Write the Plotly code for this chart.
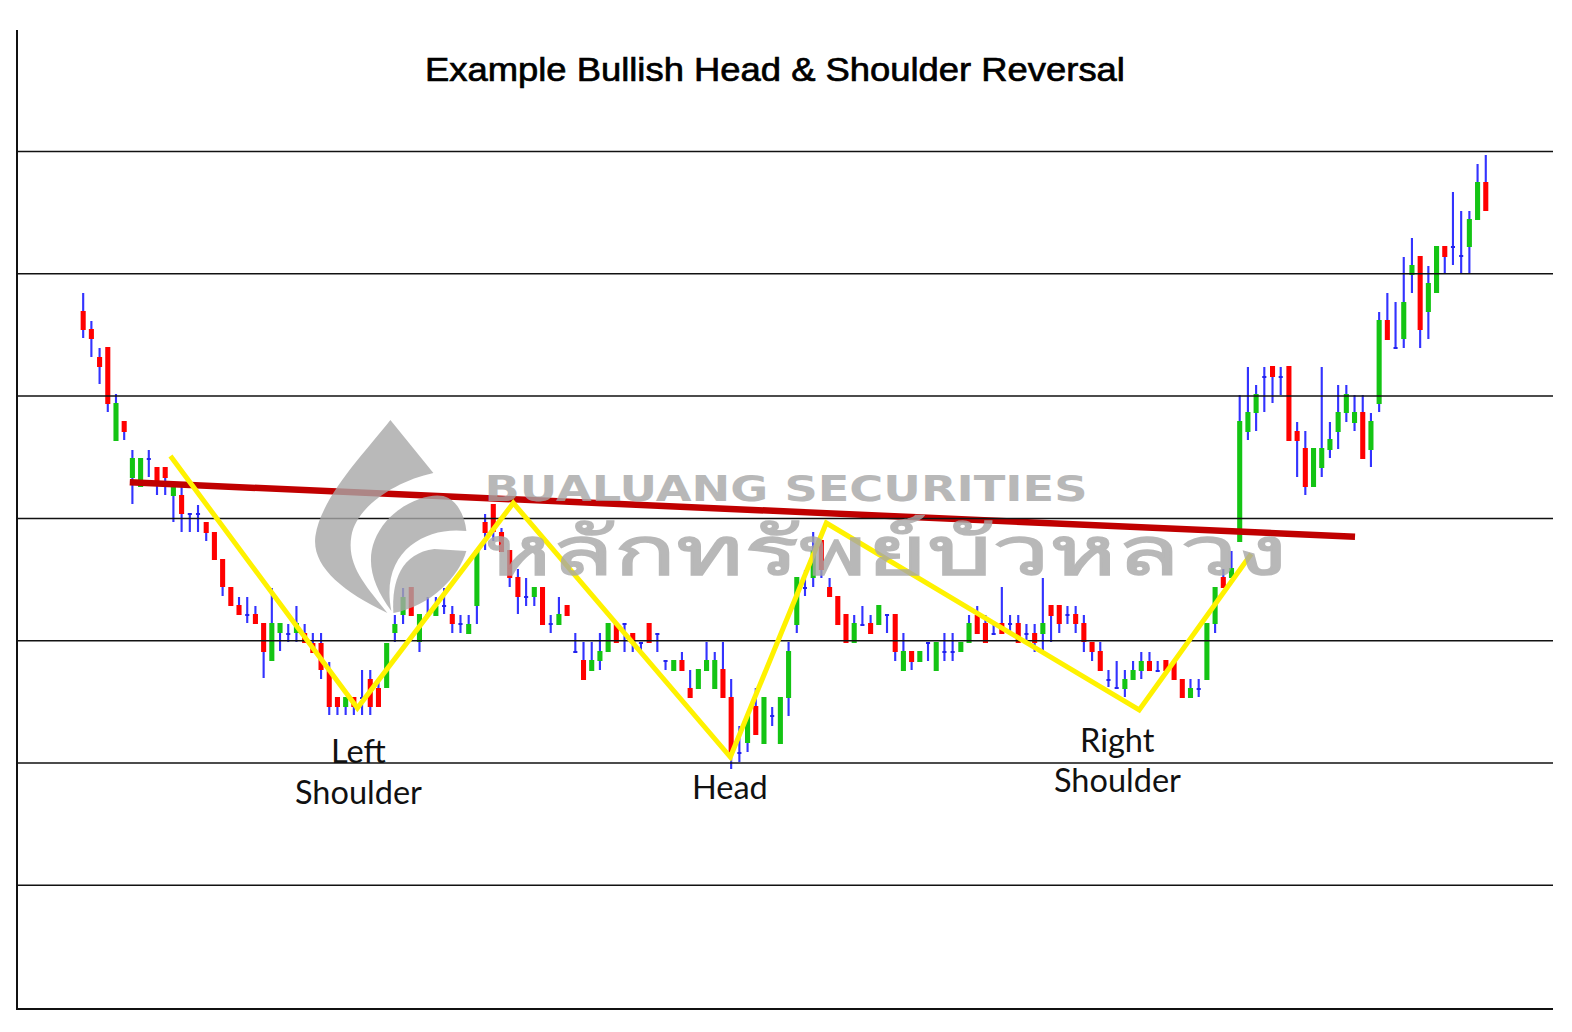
import json
import plotly.graph_objects as go

high = [712,684,657,658,611,584,555,547,555,538,
538,518,518,492,500,483,473,446,418,408,
408,399,382,417,382,381,399,381,372,372,
343,308,308,308,335,335,326,362,390,417,
418,391,408,408,417,399,390,390,455,491,
501,477,455,436,427,418,418,390,408,400,
372,363,363,372,382,382,382,372,363,382,
372,345,345,353,335,336,363,353,363,326,
279,290,317,308,298,308,363,428,435,473,
465,427,409,391,390,399,390,400,391,391,
372,354,354,363,363,372,372,363,390,399,
390,380,418,390,390,381,381,427,400,400,
399,399,390,363,363,335,344,335,344,353,
353,344,345,344,326,326,326,382,418,436,
454,610,638,620,638,639,638,639,583,574,
557,638,583,620,620,610,610,592,693,712,
703,748,767,749,739,759,759,813,794,794,841,850]
low = [667,648,621,593,564,565,501,518,528,510,
510,483,473,473,473,464,445,409,399,390,
382,381,327,344,354,363,363,362,352,326,
290,290,290,290,290,290,298,317,363,381,
389,353,389,389,391,372,372,371,381,455,
464,453,418,391,399,399,380,372,380,389,
352,325,334,335,353,362,353,353,353,362,
353,335,334,334,307,316,334,316,307,236,
243,253,270,261,279,261,289,372,409,418,
427,408,380,362,362,380,371,380,372,344,
334,335,343,344,334,344,344,353,362,371,
362,371,371,371,362,362,353,355,363,372,
381,372,353,344,334,318,316,308,325,326,
334,334,334,325,307,307,308,325,372,417,
427,463,565,574,593,602,610,564,528,510,
518,528,547,556,583,574,546,538,593,665,
656,657,712,657,666,712,732,740,732,732,785,794]
body_top = [694,676,648,658,602,584,547,547,547,538,
538,518,510,492,492,483,473,446,418,400,
391,391,382,382,382,372,382,372,362,362,
335,308,308,308,308,326,317,362,381,408,
418,391,391,399,400,391,382,381,455,483,
501,473,455,428,409,418,418,382,391,400,
354,345,345,354,382,382,382,372,363,382,
372,345,345,345,317,336,345,345,336,308,
253,290,299,308,290,308,354,428,418,455,
465,418,409,391,382,381,382,400,391,391,
354,354,354,363,363,354,354,363,382,390,
382,372,382,382,382,372,372,382,400,400,
391,391,382,363,354,326,318,326,335,344,
344,335,345,344,326,317,317,382,418,428,
437,584,593,611,629,639,629,639,574,557,
557,557,566,593,611,593,593,584,685,685,
658,703,740,749,722,759,759,759,750,786,823,823]
body_bottom = [675,666,638,601,564,573,527,518,545,523,
527,509,491,490,490,472,445,418,399,390,
389,381,353,344,372,370,372,362,352,335,
298,298,298,298,306,298,298,317,372,390,
389,363,389,389,398,381,380,371,399,472,
473,453,427,408,407,408,380,380,380,389,
352,325,334,344,353,362,380,362,361,362,
370,343,334,334,307,316,334,316,307,252,
251,262,270,261,288,261,307,380,416,427,
435,408,380,362,362,379,371,380,389,353,
334,343,343,361,334,352,352,353,362,371,
362,370,371,380,362,370,362,371,389,381,
389,381,363,353,334,324,316,316,325,334,
334,333,334,325,307,307,315,325,381,417,
427,463,573,592,627,628,627,564,564,518,
518,537,555,573,592,582,546,555,601,665,
656,666,730,675,693,712,748,757,748,758,785,794]
body_kind = ("RRRRGRGGDR" "RGRDDRRRRR" "DRRGGDGRRR" "RRGRDRRGGG" "RGDGDRDGGR"
             "RRRRDGRDGR" "DRGGGRDRDR" "DDGRRGGGRR" "DGRGDGGGDG" "RRRRGDRGDR"
             "GRGDGDDGGR" "RDRDRDRGRR" "DRRRRDDGGG" "RDRRRGDGGR" "GGGGDRDRRR"
             "GGGGGGRGGR" "DGGRGGRDDG" "GR")
x_index = list(range(len(high)))

neckline_x = [5.68, 155.06]
neckline_y = [522.7, 468.3]
pattern_x = [10.64, 33.43, 52.44, 78.9, 90.6, 128.75, 142.4]
pattern_y = [549, 297, 502, 248, 482, 295, 451]
level_prices = [119.7, 242, 364.3, 486.6, 608.9, 731.2, 853.5]

title = "Example Bullish Head & Shoulder Reversal"
brand_en = "BUALUANG SECURITIES"
brand_th = "หลักทรัพย์บัวหลวง"
labels = [("Left", 358, 750), ("Shoulder", 358, 791), ("Head", 730, 786), ("Right", 1117, 739), ("Shoulder", 1117, 779)]

PAGE = 8  # browser body margin
W, H = 1572 - PAGE, 1032 - PAGE
L, R, T, B = 17.5, 1553, 30, 1008
X0, X1 = (L - 82.7) / 8.205, (R - 82.7) / 8.205
def px(x): return (x - L) / (R - L)
def py(y): return (B - y) / (B - T)
def P(cmd, *pts):
    return cmd + " ".join(f"{px(x):.5f},{py(y):.5f}" for x, y in pts)

fig = go.Figure()
fig.add_bar(x=x_index, y=[h - l for h, l in zip(high, low)], base=low, width=0.26,
            marker=dict(color="#3333FF", line_width=0), name="range")
for k, col, w in (("R", "#FF0000", 0.62), ("G", "#14C414", 0.62), ("D", "#2222EE", 0.5)):
    idx = [i for i in x_index if body_kind[i] == k]
    fig.add_bar(x=idx, y=[body_top[i] - body_bottom[i] for i in idx], base=[body_bottom[i] for i in idx],
                width=w, marker=dict(color=col, line_width=0), name=k)
fig.add_scatter(x=neckline_x, y=neckline_y, mode="lines", line=dict(color="#C00000", width=6.5), name="neckline")
for p in level_prices:
    fig.add_scatter(x=[X0, X1], y=[p, p], mode="lines", line=dict(color="#111111", width=1.5), name="level")
fig.add_scatter(x=pattern_x, y=pattern_y, mode="lines", line=dict(color="#FFF200", width=5), name="pattern")

gray = "#A7A7A7"
logo = [
    P("M", (390, 420)) + P(" L", (433, 473)) + P(" C", (396, 481), (356, 506), (351, 536)) + P(" C", (346, 566), (366, 586), (387, 613))
    + P(" C", (341, 591), (311, 566), (315, 536)) + P(" C", (321, 496), (366, 451), (390, 420)) + " Z",
    P("M", (391, 611)) + P(" C", (369, 581), (361, 551), (386, 521)) + P(" C", (406, 499), (436, 491), (448, 498))
    + P(" C", (459, 504), (465, 519), (466, 531)) + P(" C", (426, 526), (379, 551), (391, 611)) + " Z",
    P("M", (393, 613)) + P(" C", (391, 581), (401, 553), (434, 549)) + P(" L", (466, 551))
    + P(" C", (459, 576), (431, 606), (393, 613)) + " Z",
]
shapes = [dict(type="path", xref="paper", yref="paper", path=p, fillcolor=gray, opacity=0.8,
               line_width=0, layer="above") for p in logo]

def text(t, x, y, **font):
    op = font.pop("op", 1)
    return dict(text=t, x=px(x), y=py(y), xref="paper", yref="paper", showarrow=False,
                xanchor="center", yanchor="middle", opacity=op, font=font)

ann = [text(title, 775, 69, family="Liberation Sans", size=34, color="#000000")]
ann += [text(t, x, y, family="Lato", size=32.5, color="#111111") for t, x, y in labels]
ann.append(text(brand_en, 785.5, 489, family="DejaVu Sans", size=35, color=gray, weight="bold", op=0.8))
ann.append(text(brand_th, 885, 548, family="Noto Sans", size=68, color=gray, op=0.8))

fig.update_layout(width=W, height=H, autosize=False,
                  margin=dict(l=L - PAGE, r=W + PAGE - R, t=T - PAGE, b=H + PAGE - B),
                  paper_bgcolor="white", plot_bgcolor="white", showlegend=False, barmode="overlay",
                  shapes=shapes, annotations=ann,
                  xaxis=dict(range=[X0, X1], showgrid=False, zeroline=False, showticklabels=False, ticks="",
                             showline=True, linecolor="#111111", linewidth=1.5),
                  yaxis=dict(range=[1005 - B, 1005 - T], showgrid=False, zeroline=False, showticklabels=False, ticks="",
                             showline=True, linecolor="#111111", linewidth=1.5))

# The heading and logotype lines are set in extended faces: stretch the real text to its width
# and thicken the strokes of the lighter fallback faces.
stretch = {title: 700, brand_en: 603, brand_th: 803}
weight = {title: ["#000", "0.7px"], brand_th: [gray, "1.6px"]}
post = ("var S=" + json.dumps(stretch, ensure_ascii=False) + ";"
        "var K=" + json.dumps(weight, ensure_ascii=False) + ";"
        "document.querySelectorAll('.annotation-text').forEach(function(e){var t=e.textContent,w=S[t],k=K[t];"
        "if(w){e.setAttribute('textLength',w);e.setAttribute('lengthAdjust','spacingAndGlyphs');}"
        "if(k){e.style.stroke=k[0];e.style.strokeWidth=k[1];}});")
fig.write_html("out.html", post_script=post)
